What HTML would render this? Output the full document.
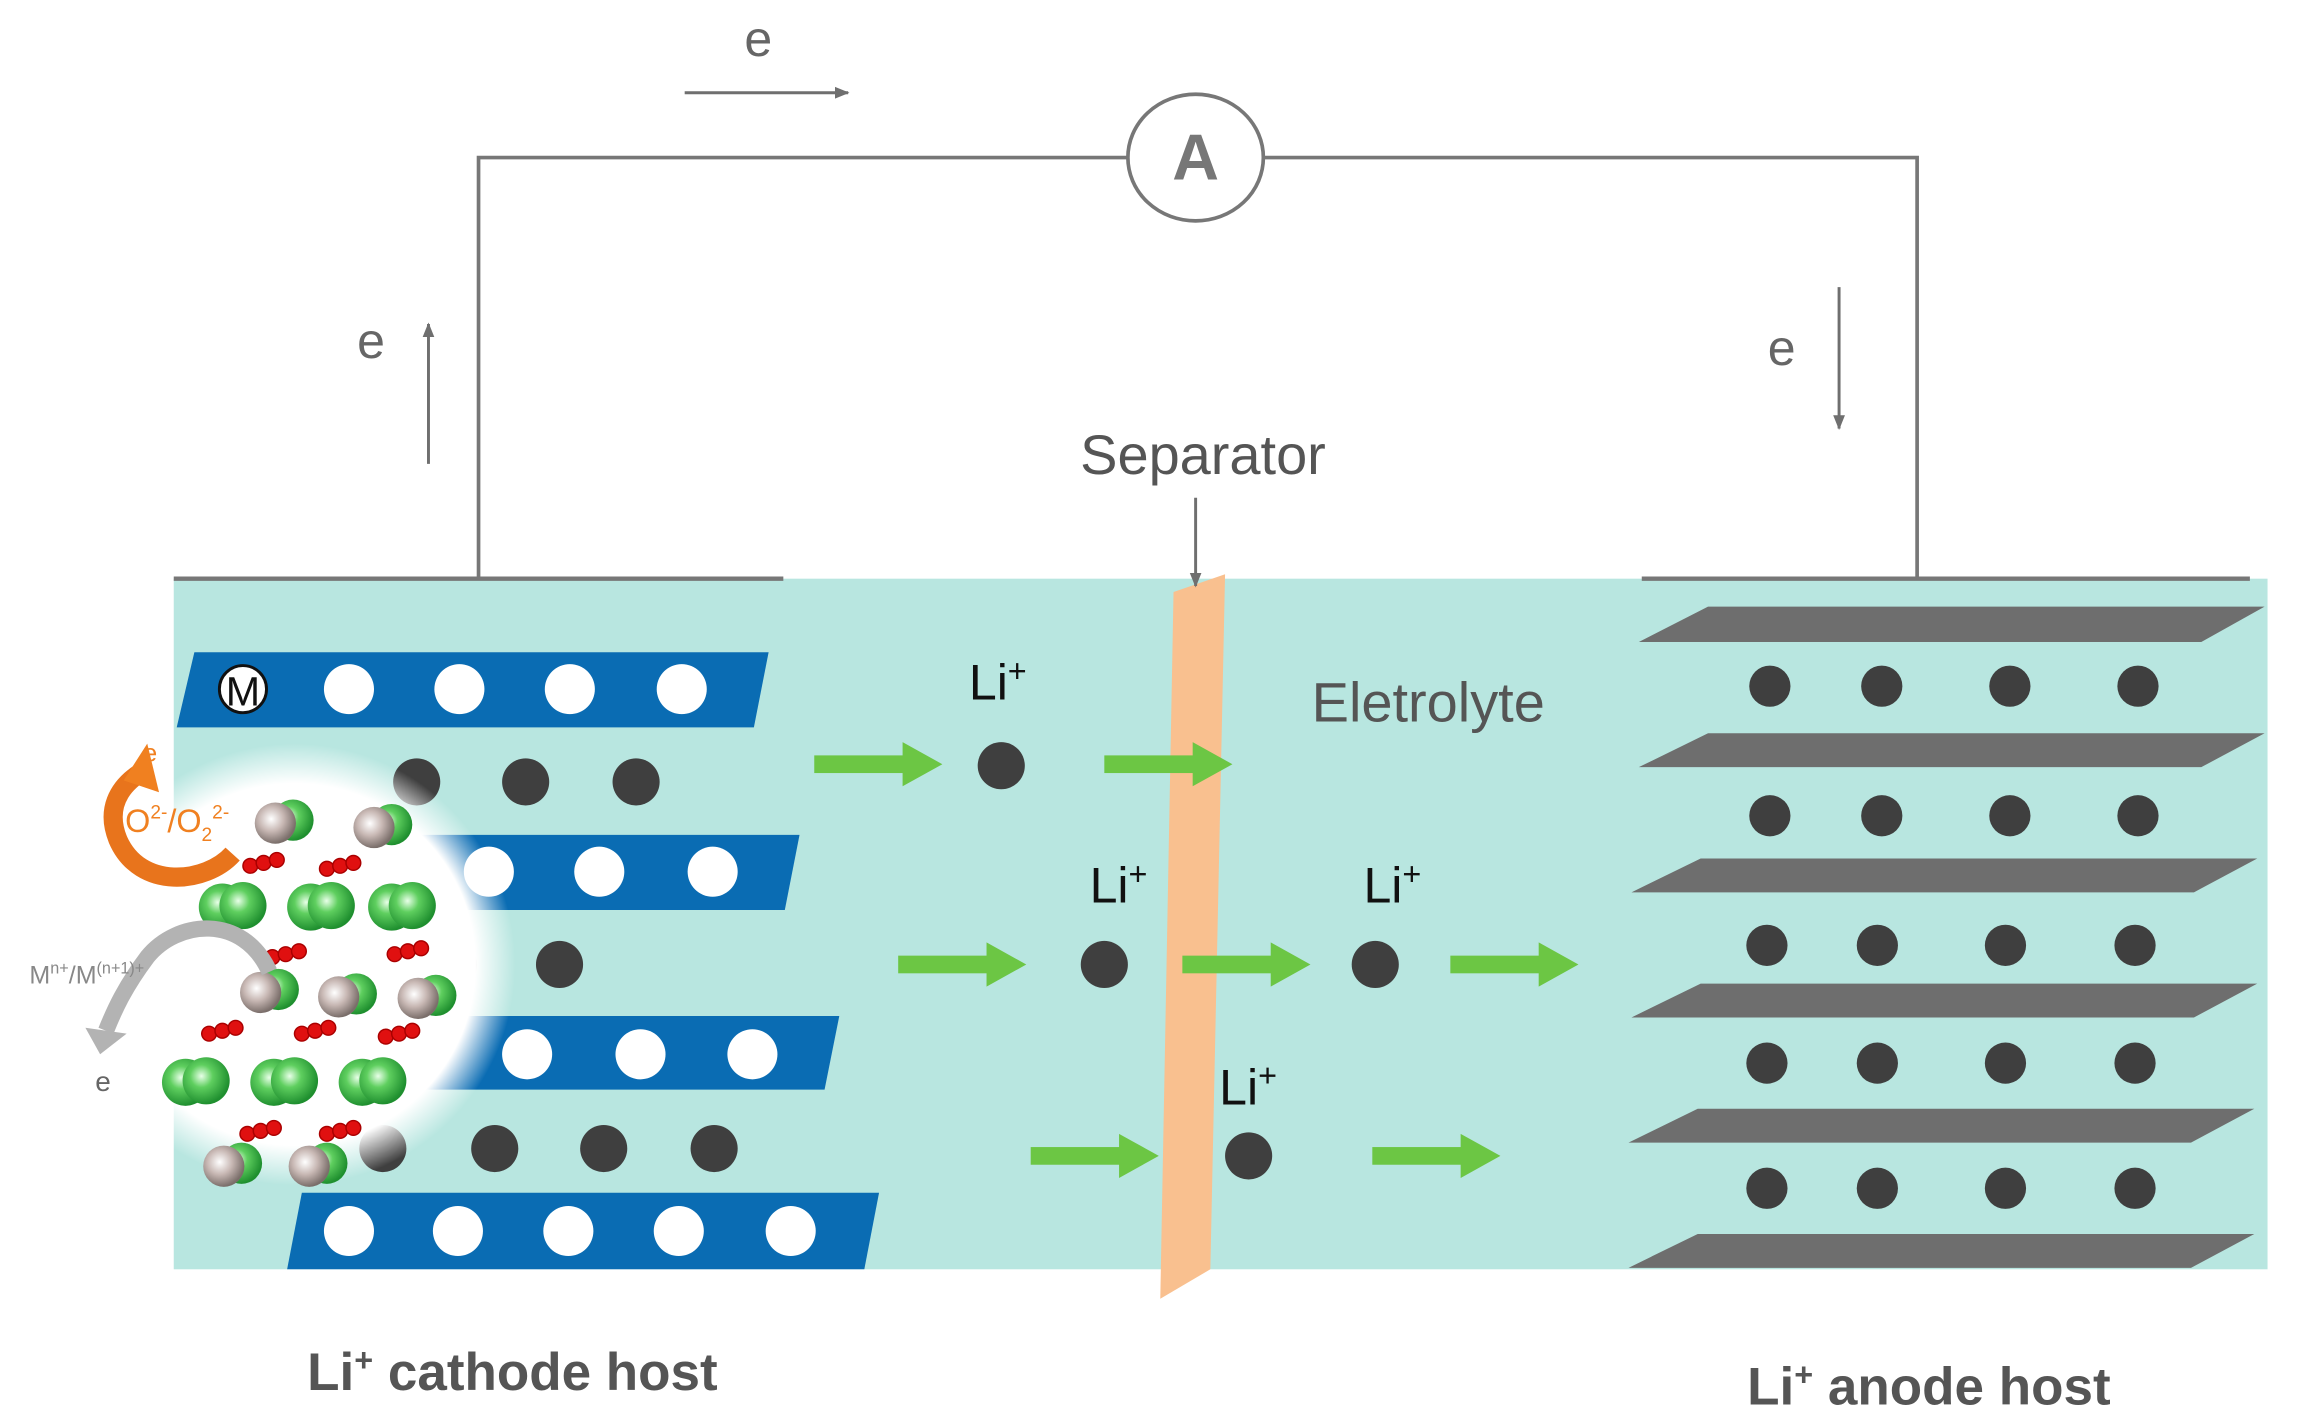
<!DOCTYPE html>
<html><head><meta charset="utf-8"><style>
html,body{margin:0;padding:0;background:#fff;}
svg{display:block;font-family:"Liberation Sans",sans-serif;}
</style></head><body>
<svg width="2297" height="1413" viewBox="0 0 1560 959.6" preserveAspectRatio="none" xmlns="http://www.w3.org/2000/svg">
<defs>
<radialGradient id="mag" cx="0.5" cy="0.5" r="0.5">
<stop offset="0.82" stop-color="#fff" stop-opacity="1"/>
<stop offset="1" stop-color="#fff" stop-opacity="0"/>
</radialGradient>
<radialGradient id="gr" cx="0.4" cy="0.4" r="0.6">
<stop offset="0" stop-color="#e8ffe8"/><stop offset="0.4" stop-color="#5fcf5f"/><stop offset="1" stop-color="#1f8f2f"/>
</radialGradient>
<radialGradient id="gy" cx="0.4" cy="0.4" r="0.6">
<stop offset="0" stop-color="#ffffff"/><stop offset="0.5" stop-color="#c8b8b4"/><stop offset="1" stop-color="#7a6e6a"/>
</radialGradient>
<marker id="ah" markerWidth="10" markerHeight="10" refX="9" refY="5" orient="auto" markerUnits="userSpaceOnUse"><path d="M0,1 L10,5 L0,9 z" fill="#6f6f6f"/></marker>
<g id="garr"><rect x="0" y="-6" width="62" height="12" fill="#6cc644"/><path d="M60,-15 L87,0 L60,15 z" fill="#6cc644"/></g>
<g id="gm"><circle cx="-4" cy="0" r="16" fill="url(#gr)"/><circle cx="10" cy="-1" r="16" fill="url(#gr)"/></g>
<g id="gw"><circle cx="4" cy="0" r="14" fill="url(#gr)"/><circle cx="-8" cy="2" r="14" fill="url(#gy)"/></g>
<g id="ox"><circle cx="0" cy="0" r="5" fill="#e01010" stroke="#a00" stroke-width="1"/><circle cx="9" cy="-2" r="5" fill="#e01010" stroke="#a00" stroke-width="1"/><circle cx="18" cy="-4" r="5" fill="#e01010" stroke="#a00" stroke-width="1"/></g>
</defs>
<rect width="1560" height="960" fill="#fff"/>
<text x="515" y="38" font-size="34" fill="#666" text-anchor="middle">e</text>
<line x1="465" y1="63" x2="576" y2="63" stroke="#6f6f6f" stroke-width="2" marker-end="url(#ah)"/>
<polyline points="325,393 325,107 766,107" fill="none" stroke="#777" stroke-width="2.5"/>
<polyline points="858,107 1302,107 1302,393" fill="none" stroke="#777" stroke-width="2.5"/>
<ellipse cx="812" cy="107" rx="46" ry="43" fill="#fff" stroke="#777" stroke-width="2.5"/>
<text x="812" y="122" font-size="44" font-weight="bold" fill="#777" text-anchor="middle">A</text>
<text x="252" y="243" font-size="34" fill="#666" text-anchor="middle">e</text>
<line x1="291" y1="315" x2="291" y2="220" stroke="#6f6f6f" stroke-width="2" marker-end="url(#ah)"/>
<text x="1210" y="248" font-size="34" fill="#666" text-anchor="middle">e</text>
<line x1="1249" y1="195" x2="1249" y2="291" stroke="#6f6f6f" stroke-width="2" marker-end="url(#ah)"/>
<text x="817" y="322" font-size="38" fill="#555" text-anchor="middle">Separator</text>
<rect x="118" y="393" width="1422" height="469" fill="#b8e6e0"/>
<line x1="118" y1="393" x2="532" y2="393" stroke="#777" stroke-width="3"/>
<line x1="1115" y1="393" x2="1528" y2="393" stroke="#777" stroke-width="3"/>
<g fill="#0a6cb3">
<polygon points="132,443 522,443 512,494 120,494"/>
<polygon points="250,567 543,567 533,618 250,618"/>
<polygon points="260,690 570,690 560,740 260,740"/>
<polygon points="205,810 597,810 587,862 195,862"/>
</g>
<g fill="#fff">
<circle cx="237" cy="468" r="17"/><circle cx="312" cy="468" r="17"/><circle cx="387" cy="468" r="17"/><circle cx="463" cy="468" r="17"/>
<circle cx="332" cy="592" r="17"/><circle cx="407" cy="592" r="17"/><circle cx="484" cy="592" r="17"/>
<circle cx="358" cy="716" r="17"/><circle cx="435" cy="716" r="17"/><circle cx="511" cy="716" r="17"/>
<circle cx="237" cy="836" r="17"/><circle cx="311" cy="836" r="17"/><circle cx="386" cy="836" r="17"/><circle cx="461" cy="836" r="17"/><circle cx="537" cy="836" r="17"/>
</g>
<circle cx="165" cy="468" r="16" fill="#fff" stroke="#111" stroke-width="2"/>
<text x="165" y="479" font-size="28" fill="#111" text-anchor="middle">M</text>
<g fill="#3f3f3f">
<circle cx="283" cy="531" r="16"/><circle cx="357" cy="531" r="16"/><circle cx="432" cy="531" r="16"/>
<circle cx="308" cy="655" r="16"/><circle cx="380" cy="655" r="16"/>
<circle cx="260" cy="780" r="16"/><circle cx="336" cy="780" r="16"/><circle cx="410" cy="780" r="16"/><circle cx="485" cy="780" r="16"/>
</g>
<circle cx="200" cy="655" r="150" fill="url(#mag)"/>
<use href="#gw" x="195" y="557"/><use href="#gw" x="262" y="560"/>
<use href="#ox" x="170" y="588"/><use href="#ox" x="222" y="590"/>
<use href="#gm" x="155" y="616"/><use href="#gm" x="215" y="616"/><use href="#gm" x="270" y="616"/>
<use href="#ox" x="268" y="648"/><use href="#ox" x="185" y="650"/>
<use href="#gw" x="185" y="672"/><use href="#gw" x="238" y="675"/><use href="#gw" x="292" y="676"/>
<use href="#ox" x="142" y="702"/><use href="#ox" x="205" y="702"/><use href="#ox" x="262" y="704"/>
<use href="#gm" x="130" y="735"/><use href="#gm" x="190" y="735"/><use href="#gm" x="250" y="735"/>
<use href="#ox" x="168" y="770"/><use href="#ox" x="222" y="770"/>
<use href="#gw" x="160" y="790"/><use href="#gw" x="218" y="790"/>
<path d="M158,580 C140,600 95,605 80,570 C72,550 80,535 95,525" fill="none" stroke="#e8741c" stroke-width="13"/>
<path d="M84,530 L100,505 L108,538 z" fill="#f08020"/>
<text x="102" y="517" font-size="17" fill="#f08020" text-anchor="middle">e</text>
<text x="85" y="565" font-size="22" fill="#f08020">O<tspan font-size="13" dy="-9">2-</tspan><tspan dy="9">/O</tspan><tspan font-size="13" dy="6">2</tspan><tspan font-size="13" dy="-15">2-</tspan></text>
<path d="M183,660 C165,620 120,625 100,650 C85,670 78,685 72,700" fill="none" stroke="#b3b3b3" stroke-width="11"/>
<path d="M58,698 L68,716 L86,702 z" fill="#b3b3b3"/>
<text x="20" y="668" font-size="17" fill="#888">M<tspan font-size="11" dy="-7">n+</tspan><tspan dy="7">/M</tspan><tspan font-size="11" dy="-7">(n+1)+</tspan></text>
<text x="70" y="741" font-size="19" fill="#666" text-anchor="middle">e</text>
<polygon points="797,402 832,390 822,862 788,882" fill="#f9c08f"/>
<line x1="812" y1="338" x2="812" y2="398" stroke="#6f6f6f" stroke-width="2" marker-end="url(#ah)"/>
<g font-size="34" fill="#111">
<text x="658" y="475">Li<tspan font-size="22" dy="-12">+</tspan></text>
<text x="740" y="613">Li<tspan font-size="22" dy="-12">+</tspan></text>
<text x="926" y="613">Li<tspan font-size="22" dy="-12">+</tspan></text>
<text x="828" y="750">Li<tspan font-size="22" dy="-12">+</tspan></text>
</g>
<g fill="#3f3f3f">
<circle cx="680" cy="520" r="16"/><circle cx="750" cy="655" r="16"/><circle cx="934" cy="655" r="16"/><circle cx="848" cy="785" r="16"/>
</g>
<use href="#garr" x="553" y="519"/><use href="#garr" x="750" y="519"/>
<use href="#garr" x="610" y="655"/><use href="#garr" x="803" y="655"/><use href="#garr" x="985" y="655"/>
<use href="#garr" x="700" y="785"/><use href="#garr" x="932" y="785"/>
<text x="970" y="490" font-size="38" fill="#555" text-anchor="middle">Eletrolyte</text>
<g fill="#6e6e6e">
<polygon points="1160,412 1538,412 1495,436 1113,436"/>
<polygon points="1160,498 1538,498 1495,521 1113,521"/>
<polygon points="1155,583 1533,583 1490,606 1108,606"/>
<polygon points="1155,668 1533,668 1490,691 1108,691"/>
<polygon points="1153,753 1531,753 1488,776 1106,776"/>
<polygon points="1153,838 1531,838 1488,861 1106,861"/>
</g>
<g fill="#3f3f3f">
<circle cx="1202" cy="466" r="14"/><circle cx="1278" cy="466" r="14"/><circle cx="1365" cy="466" r="14"/><circle cx="1452" cy="466" r="14"/>
<circle cx="1202" cy="554" r="14"/><circle cx="1278" cy="554" r="14"/><circle cx="1365" cy="554" r="14"/><circle cx="1452" cy="554" r="14"/>
<circle cx="1200" cy="642" r="14"/><circle cx="1275" cy="642" r="14"/><circle cx="1362" cy="642" r="14"/><circle cx="1450" cy="642" r="14"/>
<circle cx="1200" cy="722" r="14"/><circle cx="1275" cy="722" r="14"/><circle cx="1362" cy="722" r="14"/><circle cx="1450" cy="722" r="14"/>
<circle cx="1200" cy="807" r="14"/><circle cx="1275" cy="807" r="14"/><circle cx="1362" cy="807" r="14"/><circle cx="1450" cy="807" r="14"/>
</g>
<text x="348" y="944" font-size="36" font-weight="bold" fill="#555" text-anchor="middle">Li<tspan font-size="22" dy="-13">+</tspan><tspan dy="13"> cathode host</tspan></text>
<text x="1310" y="954" font-size="36" font-weight="bold" fill="#555" text-anchor="middle">Li<tspan font-size="22" dy="-13">+</tspan><tspan dy="13"> anode host</tspan></text>
</svg>
</body></html>
